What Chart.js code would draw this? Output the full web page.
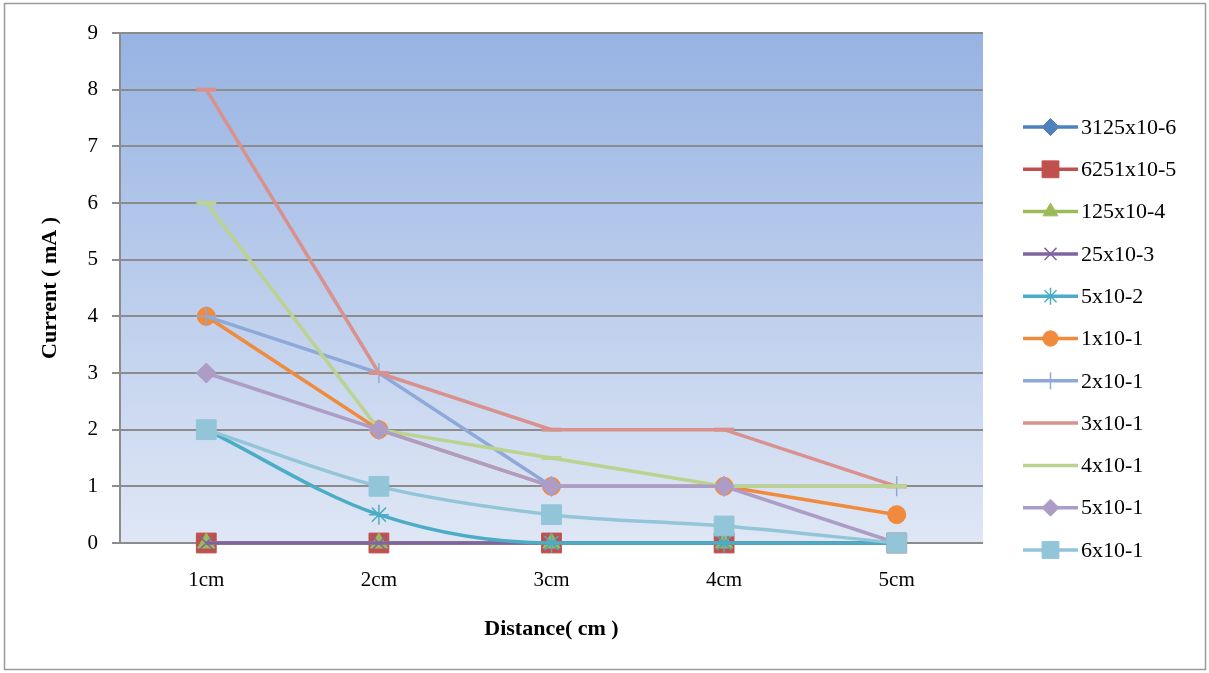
<!DOCTYPE html>
<html>
<head>
<meta charset="utf-8">
<title>Current vs Distance</title>
<script src="https://cdn.jsdelivr.net/npm/chart.js@4/dist/chart.umd.min.js"></script>
<style>
  html, body { margin: 0; padding: 0; background: #ffffff; }
  #wrap { width: 1209px; height: 673px; position: relative; }
</style>
</head>
<body>
<div id="wrap"><canvas id="chart" width="1209" height="673"></canvas></div>
<script>
// Distances along the x axis
const categories = ['1cm', '2cm', '3cm', '4cm', '5cm'];

// Series names (concentrations)
const seriesNames = [
  '3125x10-6', '6251x10-5', '125x10-4', '25x10-3', '5x10-2',
  '1x10-1', '2x10-1', '3x10-1', '4x10-1', '5x10-1', '6x10-1'
];

// Current (mA) readings for each series at each distance
const c3125e6 = [0, 0, 0, 0, 0];
const c6251e5 = [0, 0, 0, 0, 0];
const c125e4  = [0, 0, 0, 0, 0];
const c25e3   = [0, 0, 0, 0, 0];
const c5e2    = [2, 0.5, 0, 0, 0];
const c1e1    = [4, 2, 1, 1, 0.5];
const c2e1    = [4, 3, 1, 1, 1];
const c3e1    = [8, 3, 2, 2, 1];
const c4e1    = [6, 2, 1.5, 1, 1];
const c5e1    = [3, 2, 1, 1, 0];
const c6e1    = [2, 1, 0.5, 0.3, 0];

const seriesValues = [c3125e6, c6251e5, c125e4, c25e3, c5e2, c1e1, c2e1, c3e1, c4e1, c5e1, c6e1];

// Y axis range and step
const yMin = 0;
const yMax = 9;
const yStep = 1;

// Appearance of each series: colour, marker shape, marker size, smoothing
const styles = [
  { color: '#4F81BD', point: 'rectRot',  radius: 10, bw: 1,   smooth: false },
  { color: '#C0504D', point: 'rect',     radius: 14, bw: 1,   smooth: false },
  { color: '#9BBB59', point: 'triangle', radius: 10, bw: 1,   smooth: false },
  { color: '#8064A2', point: 'crossRot', radius: 10, bw: 1.5, smooth: false },
  { color: '#4BACC6', point: 'star',     radius: 10, bw: 1.5, smooth: true  },
  { color: '#F08A3C', point: 'circle',   radius: 9,  bw: 1,   smooth: false },
  { color: '#8EA9D8', point: 'cross',    radius: 10, bw: 1.5, smooth: false },
  { color: '#D9918E', point: 'line',     radius: 10, bw: 4,   smooth: false },
  { color: '#BBD38F', point: 'line',     radius: 10, bw: 4,   smooth: false },
  { color: '#AC9CC6', point: 'rectRot',  radius: 10, bw: 1,   smooth: false },
  { color: '#92C5D8', point: 'rect',     radius: 14, bw: 1,   smooth: true  }
];

const SERIF = '"Liberation Serif", "Times New Roman", serif';
const GRID = '#8c8c8c';

const datasets = seriesNames.map((name, i) => {
  const s = styles[i];
  return {
    label: name,
    data: seriesValues[i],
    borderColor: s.color,
    backgroundColor: s.color,
    borderWidth: 3.5,
    pointStyle: s.point,
    pointRadius: s.radius,
    pointHoverRadius: s.radius,
    pointBackgroundColor: s.color,
    pointBorderColor: s.color,
    pointBorderWidth: s.bw,
    tension: s.smooth ? 0.4 : 0,
    cubicInterpolationMode: s.smooth ? 'monotone' : 'default',
    clip: false,
    // later series are painted over earlier ones
    order: seriesNames.length - i
  };
});

// White page, thin frame and gradient plot background
const backdrop = {
  id: 'backdrop',
  beforeDraw(chart) {
    const { ctx, chartArea: a, width, height } = chart;
    ctx.save();
    ctx.fillStyle = '#ffffff';
    ctx.fillRect(0, 0, width, height);
    ctx.strokeStyle = '#9a9a9a';
    ctx.lineWidth = 1.5;
    ctx.strokeRect(4.5, 3.5, width - 8, height - 7);
    const g = ctx.createLinearGradient(0, a.top, 0, a.bottom);
    g.addColorStop(0, '#97B3E3');
    g.addColorStop(1, '#DFE7F5');
    ctx.fillStyle = g;
    ctx.fillRect(a.left, a.top, a.right - a.left, a.bottom - a.top);
    ctx.restore();
  }
};

// Legend at the right: line sample with marker, then the series name
const sideLegend = {
  id: 'sideLegend',
  afterDraw(chart) {
    const { ctx } = chart;
    const x0 = 1023, x1 = 1078, textX = 1081;
    const top = 127, gap = 42.3;
    ctx.save();
    chart.data.datasets.forEach((ds, i) => {
      const y = top + i * gap;
      ctx.strokeStyle = ds.borderColor;
      ctx.lineWidth = 3.5;
      ctx.lineCap = 'butt';
      ctx.beginPath();
      ctx.moveTo(x0, y);
      ctx.lineTo(x1, y);
      ctx.stroke();
      const st = styles[i];
      if (st.point !== 'line') {
        ctx.fillStyle = ds.pointBackgroundColor;
        ctx.strokeStyle = ds.pointBorderColor;
        ctx.lineWidth = st.bw;
        Chart.helpers.drawPoint(ctx, {
          pointStyle: st.point,
          radius: st.radius * 0.85,
          rotation: 0,
          borderWidth: st.bw
        }, (x0 + x1) / 2, y);
      }
      ctx.fillStyle = '#000000';
      ctx.font = '22px ' + SERIF;
      ctx.textAlign = 'left';
      ctx.textBaseline = 'middle';
      ctx.fillText(ds.label, textX, y + 1);
    });
    ctx.restore();
  }
};

new Chart(document.getElementById('chart'), {
  type: 'line',
  data: { labels: categories, datasets },
  plugins: [backdrop, sideLegend],
  options: {
    responsive: false,
    animation: false,
    events: [],
    layout: { padding: { left: 30, right: 226, top: 33, bottom: 20 } },
    plugins: {
      legend: { display: false },
      tooltip: { enabled: false },
      title: { display: false }
    },
    scales: {
      x: {
        type: 'category',
        offset: true,
        afterFit(scale) { scale.height = 110; },
        grid: { display: false, drawTicks: false },
        border: { display: false },
        ticks: {
          padding: 25,
          color: '#000000',
          font: { family: SERIF, size: 21 },
          maxRotation: 0
        },
        title: {
          display: true,
          text: 'Distance( cm )',
          color: '#000000',
          font: { family: SERIF, size: 22, weight: 'bold' },
          padding: { top: 0, bottom: 10 }
        }
      },
      y: {
        min: yMin,
        max: yMax,
        afterFit(scale) { scale.width = 90; },
        grid: {
          color: GRID,
          lineWidth: 2,
          tickLength: 8,
          drawTicks: true
        },
        border: { display: true, color: GRID, width: 2 },
        ticks: {
          stepSize: yStep,
          padding: 14,
          color: '#000000',
          font: { family: SERIF, size: 21 }
        },
        title: {
          display: true,
          text: 'Current ( mA )',
          color: '#000000',
          font: { family: SERIF, size: 22, weight: 'bold' },
          padding: { top: 7, bottom: 0 }
        }
      }
    }
  }
});
</script>
</body>
</html>
